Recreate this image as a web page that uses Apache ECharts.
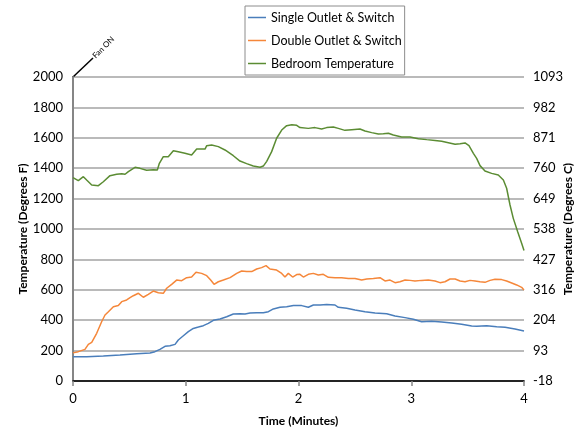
<!DOCTYPE html>
<html><head><meta charset="utf-8">
<script src="https://cdn.jsdelivr.net/npm/echarts@6/dist/echarts.min.js"></script>
<style>html,body{margin:0;padding:0;background:#fff}#c{width:577px;height:432px}</style>
</head><body><div id="c"></div>
<script>
const seriesNames = ['Single Outlet & Switch', 'Double Outlet & Switch', 'Bedroom Temperature'];
const xTicks = [0, 1, 2, 3, 4];
const yTicksF = [0, 200, 400, 600, 800, 1000, 1200, 1400, 1600, 1800, 2000];
const yTicksC = ['-18', '93', '204', '316', '427', '538', '649', '760', '871', '982', '1093'];

const singleTime = [0,0.121,0.269,0.417,0.565,0.683,0.727,0.771,0.816,0.860,0.905,0.934,0.979,1.023,1.067,1.112,1.156,1.200,1.245,1.304,1.363,1.422,1.481,1.526,1.570,1.629,1.688,1.733,1.777,1.836,1.895,1.955,2.028,2.087,2.132,2.191,2.250,2.324,2.353,2.427,2.501,2.590,2.679,2.782,2.856,2.945,3.019,3.092,3.181,3.270,3.359,3.447,3.536,3.581,3.669,3.758,3.832,3.920,4.0];
const singleTemp = [160,160,164,171,180,184,193,208,228,232,241,270,298,325,346,355,364,379,399,408,423,441,443,441,447,449,449,456,474,485,489,496,496,485,500,500,504,500,485,478,467,456,447,443,428,417,406,390,393,388,382,373,362,360,364,357,353,342,329];

const doubleTime = [0,0.047,0.106,0.136,0.166,0.210,0.254,0.284,0.314,0.358,0.402,0.432,0.476,0.506,0.535,0.580,0.624,0.668,0.712,0.757,0.801,0.831,0.875,0.919,0.964,1.008,1.052,1.091,1.141,1.186,1.221,1.251,1.289,1.334,1.393,1.452,1.496,1.540,1.585,1.629,1.673,1.712,1.747,1.806,1.851,1.880,1.910,1.948,1.984,2.013,2.043,2.087,2.132,2.176,2.220,2.265,2.324,2.383,2.442,2.501,2.560,2.605,2.664,2.723,2.767,2.812,2.856,2.900,2.945,2.989,3.033,3.092,3.151,3.211,3.255,3.299,3.344,3.389,3.433,3.477,3.522,3.566,3.610,3.654,3.699,3.743,3.802,3.846,3.891,3.935,3.979,4.0];
const doubleTemp = [185,193,208,241,254,314,390,434,456,489,496,522,533,548,561,577,551,570,592,581,577,610,636,664,660,680,684,715,708,693,664,636,653,664,680,708,724,720,720,737,746,759,737,730,708,684,708,684,700,702,684,702,708,697,702,682,680,680,675,675,664,671,675,680,658,664,647,653,664,662,658,662,664,658,647,653,671,671,658,653,662,658,653,649,662,669,667,658,645,632,616,599];

const bedroomTime = [0,0.047,0.092,0.121,0.166,0.225,0.269,0.328,0.387,0.432,0.462,0.491,0.550,0.594,0.653,0.712,0.748,0.766,0.801,0.845,0.860,0.890,0.934,0.993,1.052,1.097,1.171,1.186,1.230,1.289,1.348,1.422,1.481,1.540,1.599,1.659,1.688,1.718,1.762,1.806,1.851,1.895,1.940,1.984,2.013,2.087,2.146,2.205,2.250,2.309,2.353,2.412,2.472,2.545,2.590,2.649,2.708,2.752,2.797,2.841,2.915,2.989,3.063,3.137,3.211,3.270,3.329,3.389,3.433,3.477,3.512,3.551,3.580,3.610,3.654,3.713,3.772,3.817,3.846,3.876,3.905,3.944,3.979,4.0];
const bedroomTemp = [1338,1318,1344,1322,1289,1285,1311,1351,1360,1364,1360,1377,1406,1399,1386,1390,1388,1432,1476,1476,1471,1515,1508,1498,1487,1526,1526,1548,1553,1542,1520,1482,1447,1430,1414,1406,1414,1445,1509,1597,1651,1680,1686,1682,1667,1662,1667,1658,1667,1671,1662,1649,1653,1658,1645,1634,1625,1627,1630,1618,1605,1605,1594,1588,1583,1577,1568,1557,1561,1566,1548,1498,1465,1417,1382,1366,1355,1322,1268,1158,1070,982,906,858];

const colors = ['#4a7ebb', '#f5873a', '#5b8c33'];
const FONT = 'Lato';
const pairs = (t, v) => t.map((x, i) => [x, v[i]]);

const chart = echarts.init(document.getElementById('c'), null, {renderer: 'canvas'});
chart.setOption({
  animation: false,
  color: colors,
  textStyle: {fontFamily: FONT},
  grid: {left: 73, right: 53, top: 77, bottom: 51, containLabel: false, outerBoundsMode: 'none'},
  legend: {
    orient: 'vertical', left: 245, top: 6,
    icon: 'rect', itemWidth: 18, itemHeight: 1.5, itemGap: 8,
    padding: [4, 3, 4, 3],
    borderColor: '#8c8c8c', borderWidth: 1,
    textStyle: {fontFamily: FONT, fontSize: 12.5, color: '#000', lineHeight: 15},
    data: seriesNames
  },
  xAxis: [{
    type: 'value', min: xTicks[0], max: xTicks[xTicks.length - 1], interval: 1,
    name: 'Time (Minutes)', nameLocation: 'middle', nameGap: 34, nameMoveOverlap: false,
    nameTextStyle: {fontFamily: FONT, fontSize: 12, fontWeight: 'bold', color: '#000'},
    axisLine: {lineStyle: {color: '#868686', width: 1.5}},
    axisTick: {show: true, length: 5, lineStyle: {color: '#868686', width: 1.5}},
    axisLabel: {fontFamily: FONT, fontSize: 13, color: '#000', margin: 11},
    splitLine: {show: false}
  }, {
    type: 'value', position: 'top', min: 0, max: 4,
    axisLine: {show: true, lineStyle: {color: '#000', width: 1.5}},
    axisTick: {show: false}, axisLabel: {show: false}, splitLine: {show: false}
  }],
  yAxis: [{
    type: 'value', min: yTicksF[0], max: yTicksF[yTicksF.length - 1], interval: 200,
    name: 'Temperature (Degrees F)', nameLocation: 'middle', nameGap: 44, nameRotate: 90, nameMoveOverlap: false,
    nameTextStyle: {fontFamily: FONT, fontSize: 12, fontWeight: 'bold', color: '#000'},
    axisLine: {show: true, lineStyle: {color: '#000', width: 2}},
    axisTick: {show: false},
    axisLabel: {fontFamily: FONT, fontSize: 13, color: '#000', margin: 10, formatter: v => String(v)},
    splitLine: {show: true, lineStyle: {color: '#a3a3a3', width: 1.5}}
  }, {
    type: 'value', position: 'right', min: yTicksF[0], max: yTicksF[yTicksF.length - 1], interval: 200,
    name: 'Temperature (Degrees C)', nameLocation: 'middle', nameGap: 38, nameRotate: 90, nameMoveOverlap: false,
    nameTextStyle: {fontFamily: FONT, fontSize: 12, fontWeight: 'bold', color: '#000'},
    axisLine: {show: true, lineStyle: {color: '#868686', width: 2}},
    axisTick: {show: false},
    axisLabel: {fontFamily: FONT, fontSize: 13, color: '#000', margin: 9,
      formatter: v => yTicksC[yTicksF.indexOf(Math.round(v))]},
    splitLine: {show: false}
  }],
  series: [
    {name: seriesNames[0], type: 'line', showSymbol: false, symbol: 'none', lineStyle: {width: 1.5}, data: pairs(singleTime, singleTemp)},
    {name: seriesNames[1], type: 'line', showSymbol: false, symbol: 'none', lineStyle: {width: 1.5}, data: pairs(doubleTime, doubleTemp)},
    {name: seriesNames[2], type: 'line', showSymbol: false, symbol: 'none', lineStyle: {width: 1.5}, data: pairs(bedroomTime, bedroomTemp)}
  ]
});

const p = chart.convertToPixel({xAxisIndex: 0, yAxisIndex: 0}, [0, 2000]);
chart.setOption({
  graphic: [
    {type: 'line', shape: {x1: p[0], y1: p[1], x2: p[0] + 20, y2: p[1] - 19}, style: {stroke: '#000', lineWidth: 1.5}},
    {type: 'text', x: p[0] + 21, y: p[1] - 20, rotation: Math.PI / 4,
     style: {text: 'Fan ON', fontFamily: FONT, fontSize: 8, fill: '#000', textAlign: 'left', textVerticalAlign: 'middle'}}
  ]
});
</script></body></html>
